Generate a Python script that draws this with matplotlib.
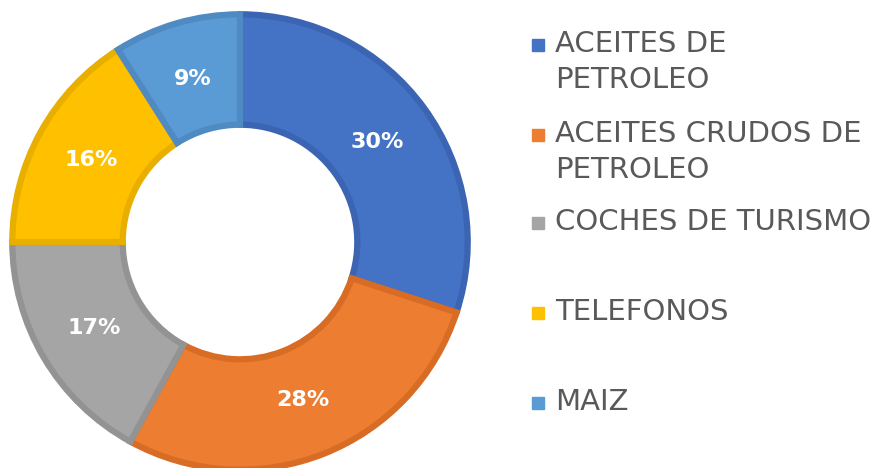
import matplotlib.pyplot as plt
from matplotlib.patches import Rectangle

# Export shares by product
labels = ["ACEITES DE\nPETROLEO", "ACEITES CRUDOS DE\nPETROLEO", "COCHES DE TURISMO",
          "TELEFONOS", "MAIZ"]
shares = [30, 28, 17, 16, 9]
colors = ["#4472C4", "#ED7D31", "#A5A5A5", "#FFC000", "#5B9BD5"]
edges = ["#3B64B3", "#D96C24", "#939393", "#E8AE00", "#4F8AC2"]

W, H = 894, 468
fig = plt.figure(figsize=(W / 100, H / 100), dpi=100)

# donut centred at (240, 242) px with outer radius 230 px
cx, cy, R = 240, 242, 230
ax = fig.add_axes([(cx - R) / W, (H - cy - R) / H, 2 * R / W, 2 * R / H])
wedges, texts, autotexts = ax.pie(
    shares, colors=colors, startangle=90, counterclock=False,
    radius=0.99, autopct="%d%%", pctdistance=0.745,
    wedgeprops=dict(width=0.48, linewidth=4.5),
    textprops=dict(color="white", fontsize=16, fontweight="bold"))
for w, e in zip(wedges, edges):
    w.set_edgecolor(e)
ax.set_xlim(-1, 1)
ax.set_ylim(-1, 1)
ax.set_aspect("equal")
ax.axis("off")

# legend drawn by hand, rows at these pixel heights
rows = [45, 135, 223, 313, 403]
for lab, col, y in zip(labels, colors, rows):
    fig.patches.append(Rectangle((532 / W, (H - y - 6) / H), 12 / W, 12 / H,
                                 transform=fig.transFigure, color=col))
    fig.text(555 / W, (H - y + 15) / H, lab, fontsize=21, color="#595959",
             va="top", ha="left", linespacing=1.38)

fig.savefig("out.png", dpi=100)
